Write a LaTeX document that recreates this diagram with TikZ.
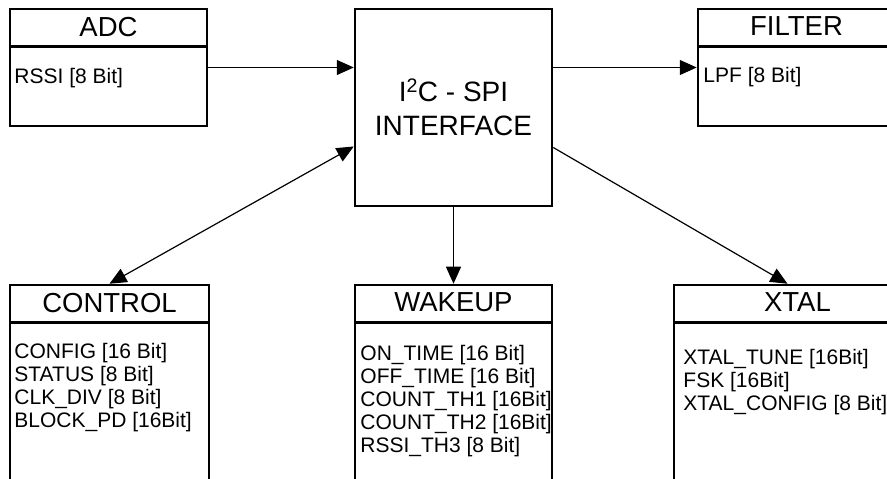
\documentclass[tikz,border=0pt]{standalone}
\usepackage{fontspec}
\setmainfont{Liberation Sans}
\usetikzlibrary{positioning,arrows.meta}
\tikzset{
  reg box/.style={draw,line width=2.5pt,rectangle,inner sep=0,minimum width=197pt},
  reg title/.style={inner sep=0,font=\fontsize{27.5}{30}\selectfont},
  reg list/.style={inner sep=0,align=left,font=\fontsize{21}{23}\selectfont},
  reg sep/.style={line width=2.5pt},
  reg link/.style={line width=1.2pt,-{Triangle[length=17pt,width=15pt]}}
}

\begin{document}
\begin{tikzpicture}[x=1pt,y=1pt]
  \useasboundingbox (0,0) rectangle (887,479);
  \clip (0,0) rectangle (887,479);

  % top row
  \node[reg box,minimum height=117pt] (adc) at (108.5,411.5) {};
  \node[reg box,minimum height=197pt,align=center,font=\fontsize{28}{34}\selectfont] (iface) at (453.5,371.5) {I\textsuperscript{2}C - SPI\\INTERFACE};
  \node[reg box,minimum height=117pt] (filter) at (796.5,411.5) {};

  % bottom row (cut by the page)
  \node[reg box,minimum height=235pt,minimum width=199pt] (control) at (109.5,76.5) {};
  \node[reg box,minimum height=235pt] (wakeup) at (453.5,76.5) {};
  \node[reg box,minimum height=235pt,minimum width=247pt] (xtal) at (797.5,76.5) {};

  % headers
  \foreach \blk in {adc,filter,control,wakeup,xtal}
    \draw[reg sep] ([yshift=-39pt]\blk.north west) -- ([yshift=-39pt]\blk.north east);

  \node[reg title,below=9pt of adc.north] (adc title) {ADC};
  \node[reg title,below=9pt of filter.north] (filter title) {FILTER};
  \node[reg title,below=9pt of control.north] (control title) {CONTROL};
  \node[reg title,below=9pt of wakeup.north] (wakeup title) {WAKEUP};
  \node[reg title,below=9pt of xtal.north] (xtal title) {XTAL};

  % register lists
  \node[reg list,below right=60pt and 5.5pt of adc.north west] (adc regs) {RSSI [8 Bit]};
  \node[reg list,below right=59pt and 6.5pt of filter.north west] (filter regs) {LPF [8 Bit]};
  \node[reg list,below right=59pt and 5.5pt of control.north west] (control regs)
    {CONFIG [16 Bit]\\STATUS [8 Bit]\\CLK\_DIV [8 Bit]\\BLOCK\_PD [16Bit]};
  \node[reg list,below right=61pt and 6.5pt of wakeup.north west] (wakeup regs)
    {ON\_TIME [16 Bit]\\OFF\_TIME [16 Bit]\\COUNT\_TH1 [16Bit]\\COUNT\_TH2 [16Bit]\\RSSI\_TH3 [8 Bit]};
  \node[reg list,below right=65pt and 10.5pt of xtal.north west] (xtal regs)
    {XTAL\_TUNE [16Bit]\\FSK [16Bit]\\XTAL\_CONFIG [8 Bit]};

  % links
  \draw[reg link] (adc.east) -- (adc.east -| iface.west);
  \draw[reg link] (iface.east |- filter.west) -- (filter.west);
  \draw[reg link,{Triangle[length=17pt,width=15pt]}-{Triangle[length=17pt,width=15pt]}]
    ([yshift=-39pt]iface.west) -- (control.north);
  \draw[reg link] (iface.south) -- (wakeup.north);
  \draw[reg link] ([yshift=-40pt]iface.east) -- ([xshift=-10pt]xtal.north);
\end{tikzpicture}
\end{document}
